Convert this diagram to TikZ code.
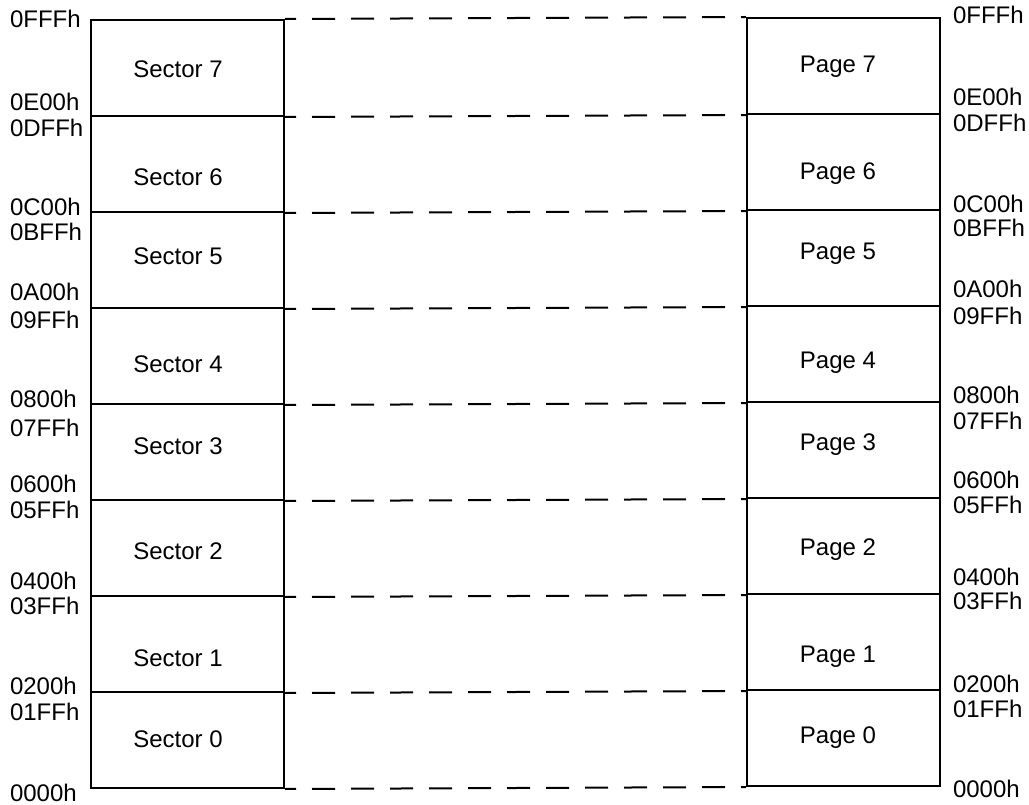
\documentclass[tikz,border=0pt]{standalone}
\usepackage{fontspec}
\setmainfont{Liberation Sans}
\usetikzlibrary{positioning}

\begin{document}
\begin{tikzpicture}[x=1pt, y=-1pt, line width=2pt]
  \tikzstyle{membox}=[rectangle, draw, minimum width=193pt, minimum height=96pt, inner sep=0pt]
  \tikzstyle{boxtext}=[anchor=base, inner sep=0pt, font=\fontsize{24}{27}\selectfont]
  \tikzstyle{addr}=[anchor=base west, inner sep=0pt, font=\fontsize{24}{27}\selectfont]
  \tikzstyle{link}=[dash pattern=on 23pt off 16pt, dash phase=12pt]
  \useasboundingbox (0,0) rectangle (1029,805);

  % sectors on the left, pages on the right
  \foreach \k/\ys/\yp/\ts/\tp in {0/740/738/739/735, 1/644/642/658/654,
      2/548/546/551/547, 3/452/450/446/442, 4/356/354/364/360,
      5/260/258/257/252, 6/164/162/178/172, 7/68/66/70/65} {
    \node[membox] (sec\k) at (187.5,\ys) {};
    \node[membox] (pg\k) at (843.5,\yp) {};
    \node[boxtext] (sectxt\k) at (178,\ts+8) {Sector \k};
    \node[boxtext] (pgtxt\k) at (838,\tp+8) {Page \k};
  }

  % address labels
  \foreach \t/\y [count=\i] in {0FFFh/20, 0E00h/103, 0DFFh/129, 0C00h/208,
      0BFFh/233, 0A00h/293, 09FFh/320, 0800h/399, 07FFh/428, 0600h/484,
      05FFh/510, 0400h/581, 03FFh/606, 0200h/686, 01FFh/712, 0000h/793}
    \node[addr] (laddr\i) at (9,\y+8) {\t};
  \foreach \t/\y [count=\i] in {0FFFh/16, 0E00h/98, 0DFFh/124, 0C00h/205,
      0BFFh/229, 0A00h/290, 09FFh/317, 0800h/395, 07FFh/421, 0600h/480,
      05FFh/505, 0400h/577, 03FFh/601, 0200h/684, 01FFh/709, 0000h/789}
    \node[addr] (raddr\i) at (952,\y+8) {\t};

  % dashed links between matching boundaries
  \foreach \k in {0,...,7}
    \draw[link] (sec\k.south east) -- (pg\k.south west);
  \draw[link] (sec7.north east) -- (pg7.north west);
\end{tikzpicture}
\end{document}
